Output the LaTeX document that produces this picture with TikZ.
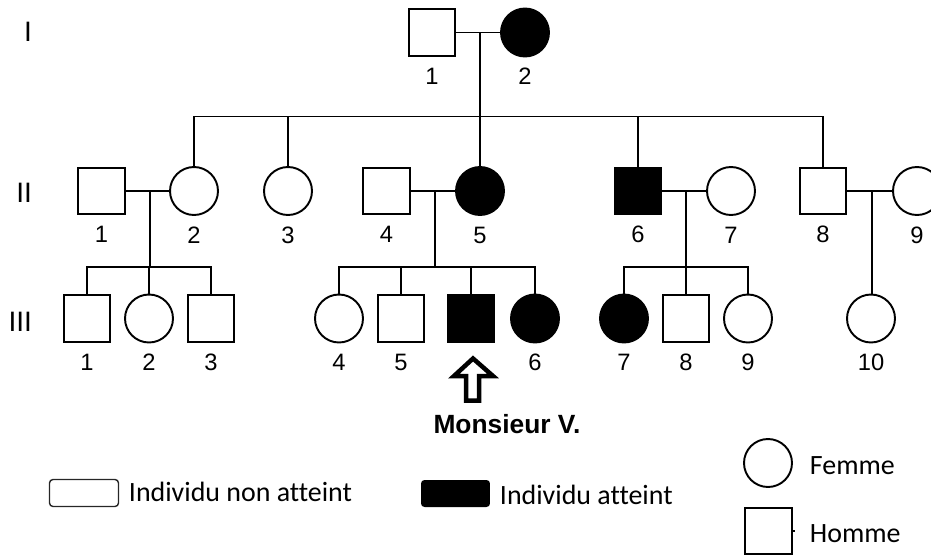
\documentclass[tikz,border=0pt]{standalone}
\usepackage{fontspec}
\setmainfont{Liberation Sans}
\newfontfamily\legendfont[Ligatures=NoCommon]{Carlito}
\usetikzlibrary{calc}

\begin{document}
\begin{tikzpicture}[x=0.02cm, y=-0.02cm, line width=1.1pt,
    male/.style={draw, rectangle, minimum size=0.93cm, inner sep=0pt},
    female/.style={draw, circle, minimum size=0.96cm, inner sep=0pt},
    ill/.style={fill=black},
    every label/.style={inner sep=0pt, text height=0.34cm, text depth=0pt, font=\fontsize{13.5}{16}\selectfont},
    label distance=0.19cm,
    gen/.style={anchor=east, inner sep=0pt, font=\fontsize{16}{19}\selectfont},
    legtext/.style={anchor=west, inner sep=0pt, font=\legendfont\fontsize{15.9}{19}\selectfont},
    keybox/.style={rounded corners=2pt, minimum width=1.38cm, minimum height=0.54cm, inner sep=0pt}]

    \useasboundingbox (0,0) rectangle (931,555);

    %% Generations
    \node[gen] (gI) at (33,32) {I};
    \node[gen] (gII) at (33,193) {II};
    \node[gen] (gIII) at (33,322) {III};

    %% Generation I
    \node[male, label=below:1] (I1) at (432,32.5) {};
    \node[female, ill, label=below:2] (I2) at (525,32.5) {};
    \draw (I1) -- (I2);
    \coordinate (mI) at ($(I1.east)!0.55!(I2.west)$);
    \coordinate (sI) at ($(mI)+(0,84)$);

    %% Generation II
    \node[male, label=below:1] (II1) at (101.5,191) {};
    \node[female, label=below:2] (II2) at (194,191) {};
    \node[female, label=below:3] (II3) at (288,191) {};
    \node[male, label=below:4] (II4) at (386.5,191) {};
    \node[female, ill, label=below:5] (II5) at (480,191) {};
    \node[male, ill, label=below:6] (II6) at (638,191) {};
    \node[female, label=below:7] (II7) at (731,191) {};
    \node[male, label=below:8] (II8) at (823,191) {};
    \node[female, label=below:9] (II9) at (917,191) {};

    % Children of I
    \draw (mI) -- (mI |- II5.north);
    \draw (II2.north) |- (sI) -| (II8.north);
    \draw (II3.north) -- (II3.north |- sI);
    \draw (II6.north) -- (II6.north |- sI);

    % Couples of II
    \draw (II1) -- (II2);
    \draw (II4) -- (II5);
    \draw (II6) -- (II7);
    \draw (II8) -- (II9);
    \coordinate (mA) at ($(II1.east)!0.55!(II2.west)$);
    \coordinate (mB) at ($(II4.east)!0.55!(II5.west)$);
    \coordinate (mC) at ($(II6.east)!0.55!(II7.west)$);
    \coordinate (mD) at ($(II8.east)!0.55!(II9.west)$);
    \coordinate (sA) at ($(mA)+(0,76)$);
    \coordinate (sB) at ($(mB)+(0,76)$);
    \coordinate (sC) at ($(mC)+(0,76)$);

    %% Generation III
    \node[male, label=below:1] (III1) at (87,318.5) {};
    \node[female, label=below:2] (III2) at (149,318.5) {};
    \node[male, label=below:3] (III3) at (211,318.5) {};
    \node[female, label=below:4] (III4) at (339,318.5) {};
    \node[male, label=below:5] (III5) at (401,318.5) {};
    \node[male, ill] (mv) at (471,318.5) {};
    \node[female, ill, label=below:6] (III6) at (535,318.5) {};
    \node[female, ill, label=below:7] (III7) at (624,318.5) {};
    \node[male, label=below:8] (III8) at (686,318.5) {};
    \node[female, label=below:9] (III9) at (748,318.5) {};
    \node[female, label=below:10] (III10) at (871,318.5) {};

    % Children of II
    \draw (mA) -- (sA);
    \draw (III1.north) |- (sA) -| (III3.north);
    \draw (III2.north) -- (III2.north |- sA);

    \draw (mB) -- (sB);
    \draw (III4.north) |- (sB) -| (III6.north);
    \draw (III5.north) -- (III5.north |- sB);
    \draw (mv.north) -- (mv.north |- sB);

    \draw (mC) -- (sC);
    \draw (III7.north) |- (sC) -| (III9.north);
    \draw (III8.north) -- (III8.north |- sC);

    \draw (mD) -- (mD |- III10.north);

    %% Monsieur V.
    \draw[line width=0.09cm, miter limit=4] (473,358.5) -- (493,376) -- (479,376) -- (479,400.5)
        -- (466,400.5) -- (466,376) -- (454,376) -- cycle;
    \node[inner sep=0pt, font=\bfseries\fontsize{15}{18}\selectfont] (mvtxt) at (507,424) {Monsieur V.};

    %% Legend
    \node[keybox, draw=black!85, line width=0.8pt] (keyok) at (84,493) {};
    \node[legtext] (keyoktxt) at (128,492) {Individu non atteint};
    \node[keybox, fill=black] (keyill) at (455.5,493.5) {};
    \node[legtext] (keyilltxt) at (499,495) {Individu atteint};
    \node[female] (keyf) at (768,463) {};
    \node[legtext] (keyftxt) at (809,466) {Femme};
    \node[male] (keym) at (768.5,531) {};
    \node[legtext] (keymtxt) at (809,533.5) {Homme};
    \draw (keym.east) -- ++(2,0);

\end{tikzpicture}
\end{document}
